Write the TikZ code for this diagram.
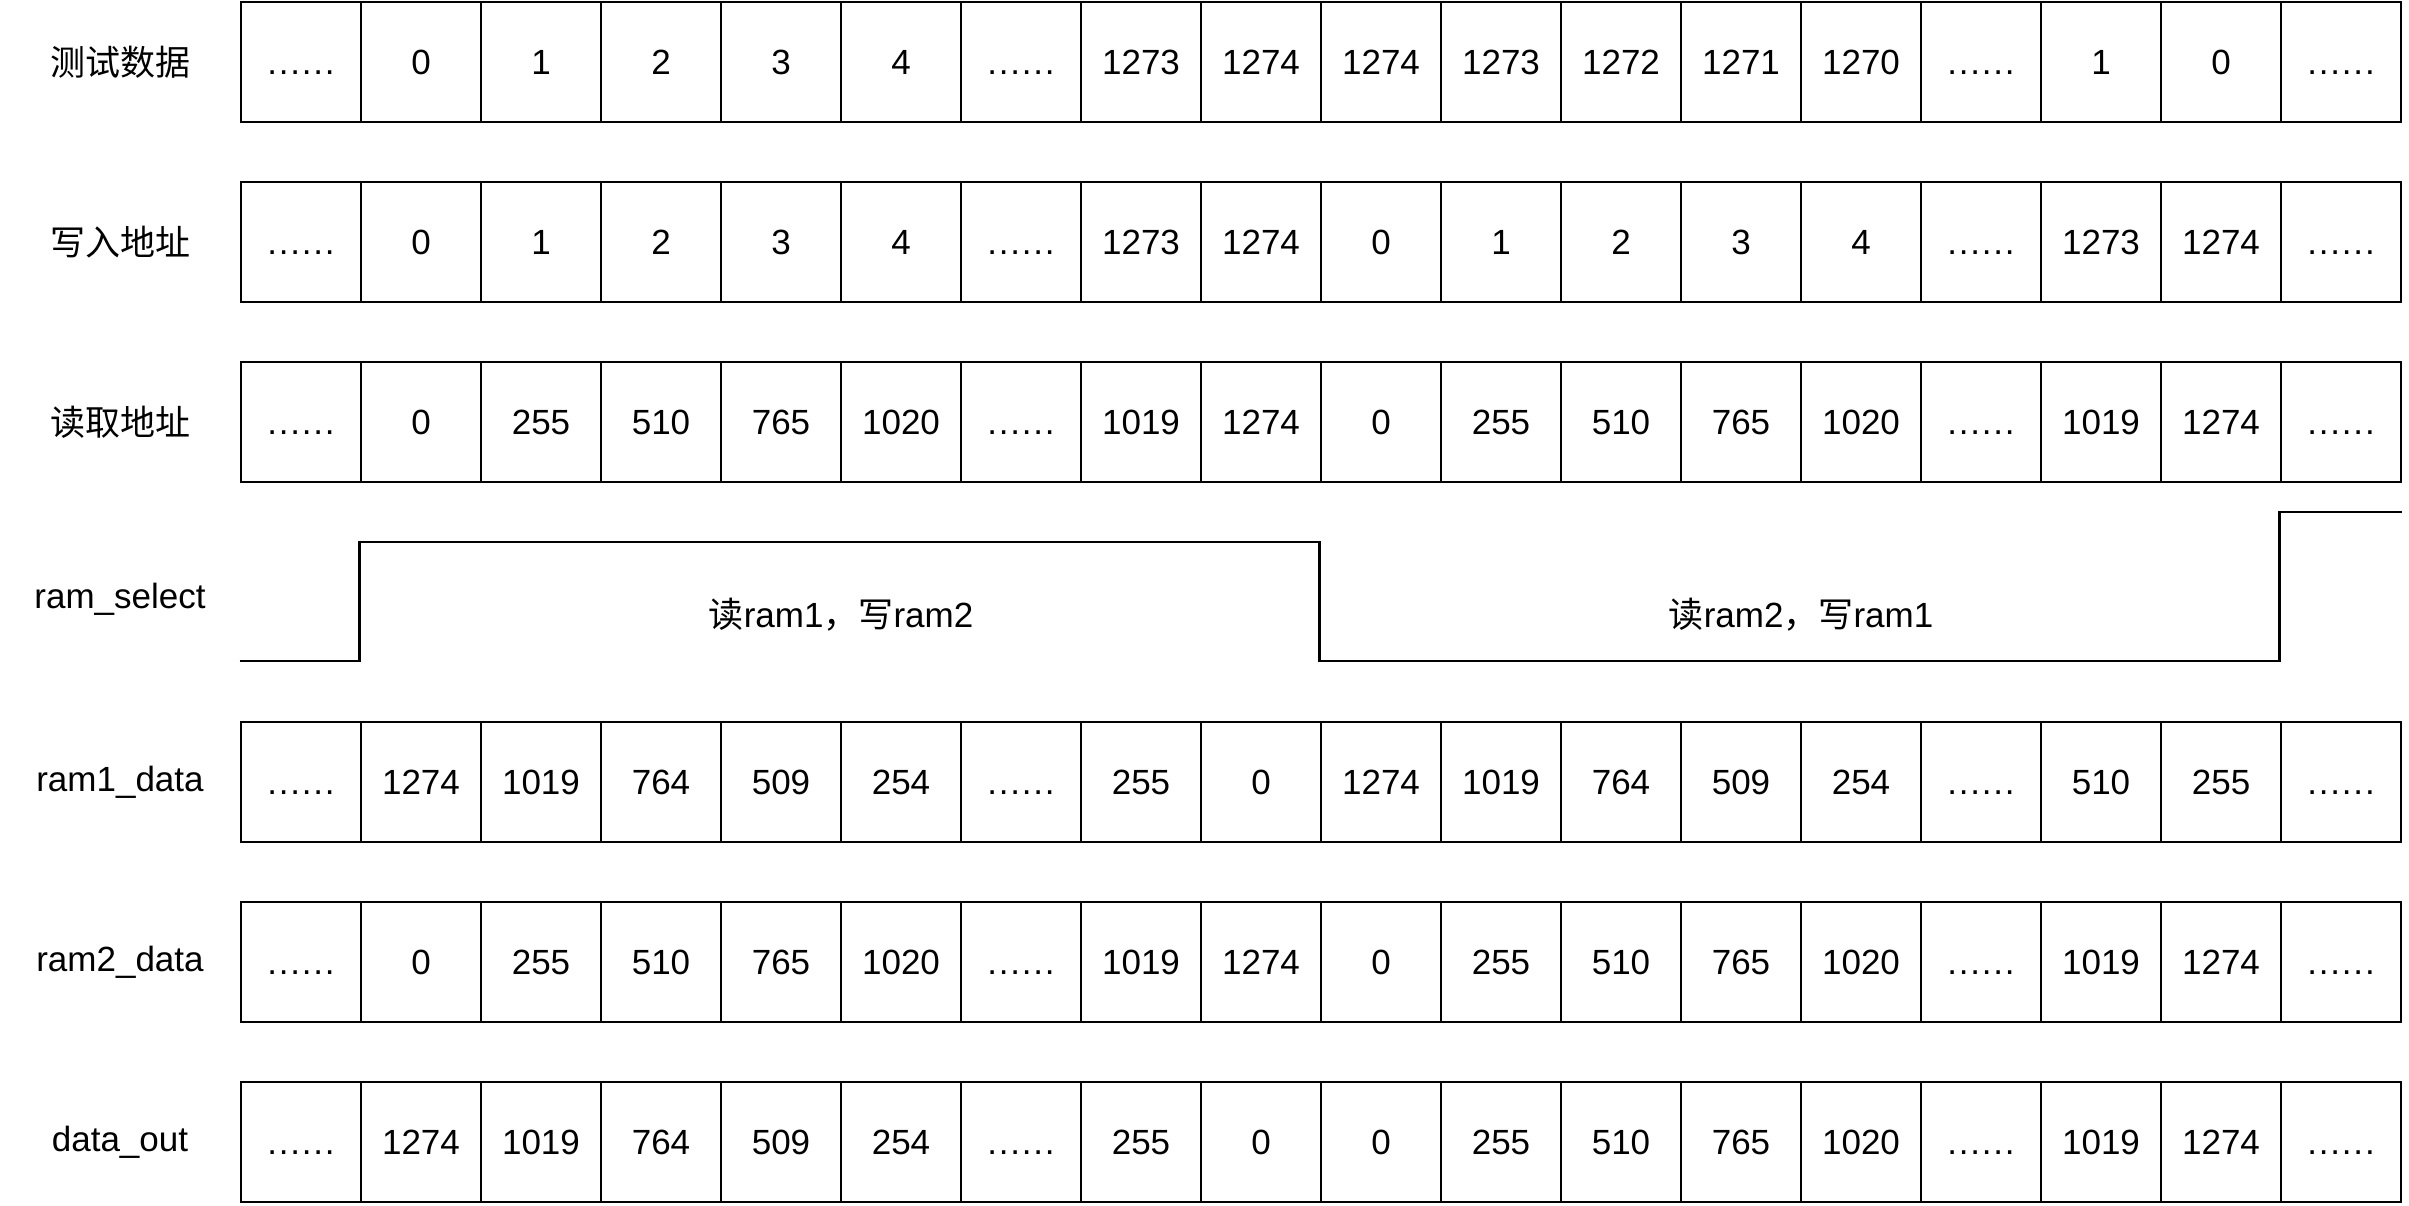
\documentclass[tikz,border=0pt]{standalone}
\usepackage{fontspec}
\setmainfont{Liberation Sans}
\newfontfamily\cjk{Noto Sans CJK SC}
\newcommand\gap{.\kern1.8pt.\kern1.8pt.\kern1.8pt.\kern1.8pt.\kern1.8pt.}

\begin{document}
\begin{tikzpicture}[x=1pt,y=-1pt]

\tikzstyle{cell}=[draw=black, line width=2.7pt, minimum width=120pt, minimum height=120pt, inner sep=0pt, text height=25pt, text depth=0pt, font=\fontsize{35}{42}\selectfont]
\tikzstyle{rowlabel}=[inner sep=0pt, font=\fontsize{35}{42}\selectfont]
\tikzstyle{wave}=[draw=black, line width=2.7pt]

\useasboundingbox (0,0) rectangle (2409,1206);

% row labels
\node[rowlabel] (lbl-d) at (120,62) {\cjk 测试数据};
\node[rowlabel] (lbl-w) at (120,242) {\cjk 写入地址};
\node[rowlabel] (lbl-r) at (120,422) {\cjk 读取地址};
\node[rowlabel] (lbl-s) at (120,599) {ram\_select};
\node[rowlabel] (lbl-a) at (120,782) {ram1\_data};
\node[rowlabel] (lbl-b) at (120,962) {ram2\_data};
\node[rowlabel] (lbl-o) at (120,1142) {data\_out};

% cells
\foreach \v [count=\i] in {\gap,0,1,2,3,4,\gap,1273,1274,1274,1273,1272,1271,1270,\gap,1,0,\gap}
    \node[cell] (d\i) at ({181+120*\i},62) {\v};
\foreach \v [count=\i] in {\gap,0,1,2,3,4,\gap,1273,1274,0,1,2,3,4,\gap,1273,1274,\gap}
    \node[cell] (w\i) at ({181+120*\i},242) {\v};
\foreach \v [count=\i] in {\gap,0,255,510,765,1020,\gap,1019,1274,0,255,510,765,1020,\gap,1019,1274,\gap}
    \node[cell] (r\i) at ({181+120*\i},422) {\v};
\foreach \v [count=\i] in {\gap,1274,1019,764,509,254,\gap,255,0,1274,1019,764,509,254,\gap,510,255,\gap}
    \node[cell] (a\i) at ({181+120*\i},782) {\v};
\foreach \v [count=\i] in {\gap,0,255,510,765,1020,\gap,1019,1274,0,255,510,765,1020,\gap,1019,1274,\gap}
    \node[cell] (b\i) at ({181+120*\i},962) {\v};
\foreach \v [count=\i] in {\gap,1274,1019,764,509,254,\gap,255,0,0,255,510,765,1020,\gap,1019,1274,\gap}
    \node[cell] (o\i) at ({181+120*\i},1142) {\v};

% ram_select waveform
\coordinate (lo) at (0,661);
\coordinate (hi) at (0,542);
\coordinate (top) at (0,512);
\draw[wave] (a1.west |- lo) -- (a2.west |- lo) -- (a2.west |- hi) -- (a10.west |- hi)
    -- (a10.west |- lo) -- (a18.west |- lo) -- (a18.west |- top) -- (a18.east |- top);

\node[rowlabel] (phase1) at (841,615) {{\cjk 读}ram1{\cjk ，写}ram2};
\node[rowlabel] (phase2) at (1801,615) {{\cjk 读}ram2{\cjk ，写}ram1};

\end{tikzpicture}
\end{document}
